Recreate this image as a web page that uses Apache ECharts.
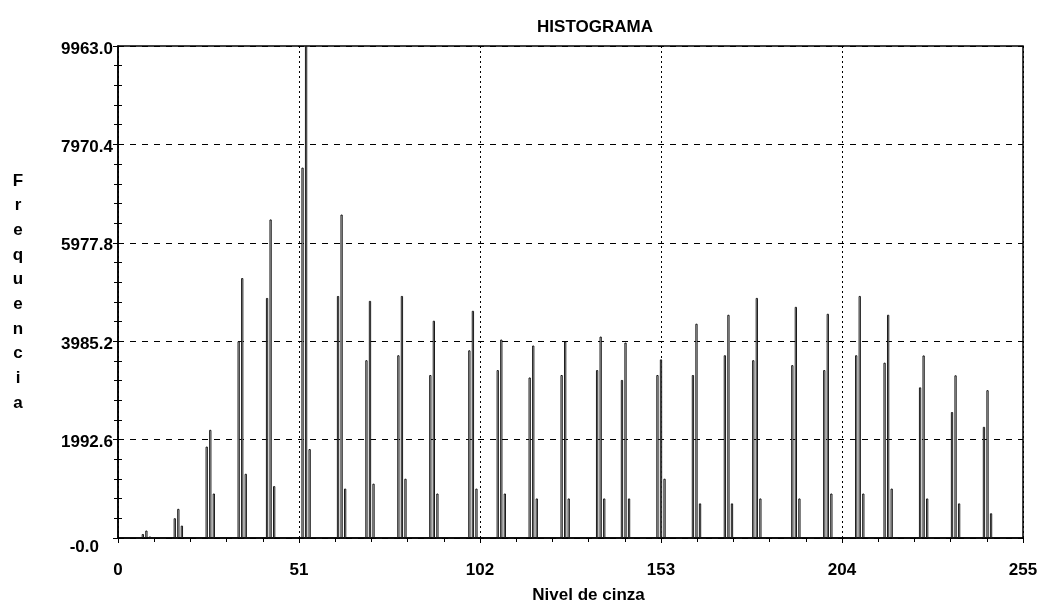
<!DOCTYPE html>
<html>
<head>
<meta charset="utf-8">
<script src="https://cdn.jsdelivr.net/npm/echarts@6/dist/echarts.min.js"></script>
<style>
html,body{margin:0;padding:0;background:#fff;}
#chart{width:1045px;height:609px;}
</style>
</head>
<body>
<div id="chart"></div>
<script>
// Gray level of each histogram peak (centre bin)
const peakLevels = [8, 17, 26, 35, 43, 53, 63, 71, 80, 89, 100, 108, 117, 126, 136, 143, 153, 163, 172, 180, 191, 200, 209, 217, 227, 236, 245];
// Count in the bin just left of each peak
const leftCounts = [80, 400, 1850, 3985, 4860, 7500, 4900, 3600, 3700, 3300, 3800, 3400, 3250, 3300, 3400, 3200, 3300, 3300, 3700, 3600, 3500, 3400, 3700, 3550, 3050, 2550, 2250];
// Count in the peak (centre) bin
const centerCounts = [150, 590, 2190, 5263, 6450, 9963, 6549, 4801, 4901, 4399, 4600, 4018, 3897, 3977, 4078, 3957, 3616, 4339, 4520, 4861, 4680, 4540, 4901, 4520, 3696, 3294, 2993];
// Count in the bin just right of each peak
const rightCounts = [30, 250, 900, 1300, 1050, 1800, 1000, 1100, 1200, 900, 1000, 900, 800, 800, 800, 800, 1200, 700, 700, 800, 800, 900, 900, 1000, 800, 700, 500];

const xTicks = [0, 51, 102, 153, 204, 255];
const yTickLabels = ['-0.0', '1992.6', '3985.2', '5977.8', '7970.4', '9963.0'];

const bins = [];
peakLevels.forEach((g, i) => {
  bins.push([g - 1, leftCounts[i]]);
  bins.push([g, centerCounts[i]]);
  bins.push([g + 1, rightCounts[i]]);
});

const FONT = 'Liberation Sans';
const txt = {fontFamily: FONT, fontWeight: 'bold', fontSize: 17, color: '#000'};
const chart = echarts.init(document.getElementById('chart'), null, {renderer: 'canvas'});
chart.setOption({
  animation: false,
  backgroundColor: '#fff',
  title: {
    text: 'HISTOGRAMA',
    left: 590, top: 14, textAlign: 'center',
    textStyle: Object.assign({}, txt, {letterSpacing: 0.5})
  },
  grid: {left: 118, right: 22, top: 46, bottom: 67, show: true, borderColor: '#000', borderWidth: 1.5},
  xAxis: [{
    type: 'value', min: 0, max: 255, interval: 51,
    name: 'Nivel de cinza', nameLocation: 'middle', nameGap: 49,
    nameTextStyle: Object.assign({}, txt, {letterSpacing: 1.8, padding: [0, 0, 0, 36]}),
    axisLine: {lineStyle: {color: '#000', width: 1.5}},
    axisTick: {show: false},
    axisLabel: Object.assign({}, txt, {margin: 24,
      formatter: v => xTicks.indexOf(v) >= 0 ? String(v) : ''}),
    splitLine: {show: true, lineStyle: {color: '#000', type: [2, 3], width: 1}}
  }, {
    type: 'value', min: 0, max: 255, interval: 51, position: 'top',
    axisLine: {show: false}, axisLabel: {show: false},
    axisTick: {show: true, inside: true, length: 5, lineStyle: {color: '#000'}},
    minorTick: {show: true, splitNumber: 5, length: 4, lineStyle: {color: '#000'}},
    splitLine: {show: false}
  }],
  yAxis: [{
    type: 'value', min: 0, max: 9963, interval: 1992.6,
    name: 'F\nr\ne\nq\nu\ne\nn\nc\ni\na', nameLocation: 'middle', nameRotate: 0, nameGap: 100,
    nameTextStyle: Object.assign({}, txt, {lineHeight: 24.7, align: 'center'}),
    axisLine: {lineStyle: {color: '#000', width: 1.5}},
    axisTick: {show: true, inside: true, length: 5, lineStyle: {color: '#000'}},
    minorTick: {show: true, splitNumber: 5, length: 4, lineStyle: {color: '#000'}},
    axisLabel: Object.assign({}, txt, {margin: 5,
      formatter: (v, idx) => {
        const s = yTickLabels[idx];
        if (s === undefined) return '';
        return idx === 0 ? '{z|' + s + '}' : '{n|' + s + '}';
      },
      rich: {
        z: Object.assign({}, txt, {padding: [18, 14, 0, 0]}),
        n: Object.assign({}, txt, {padding: [6, 0, 0, 0]})
      }}),
    splitLine: {show: true, lineStyle: {color: '#000', type: [6, 6], width: 1}}
  }, {
    type: 'value', min: 0, max: 9963, interval: 1992.6, position: 'right',
    axisLine: {show: false}, axisLabel: {show: false},
    axisTick: {show: true, inside: true, length: 5, lineStyle: {color: '#000'}},
    minorTick: {show: true, splitNumber: 5, length: 4, lineStyle: {color: '#000'}},
    splitLine: {show: false}
  }],
  series: [{
    type: 'bar',
    xAxisIndex: 0, yAxisIndex: 0,
    data: bins,
    barWidth: 2.2,
    itemStyle: {color: '#fff', borderColor: '#000', borderWidth: 0.9}
  }]
});
</script>
</body>
</html>
